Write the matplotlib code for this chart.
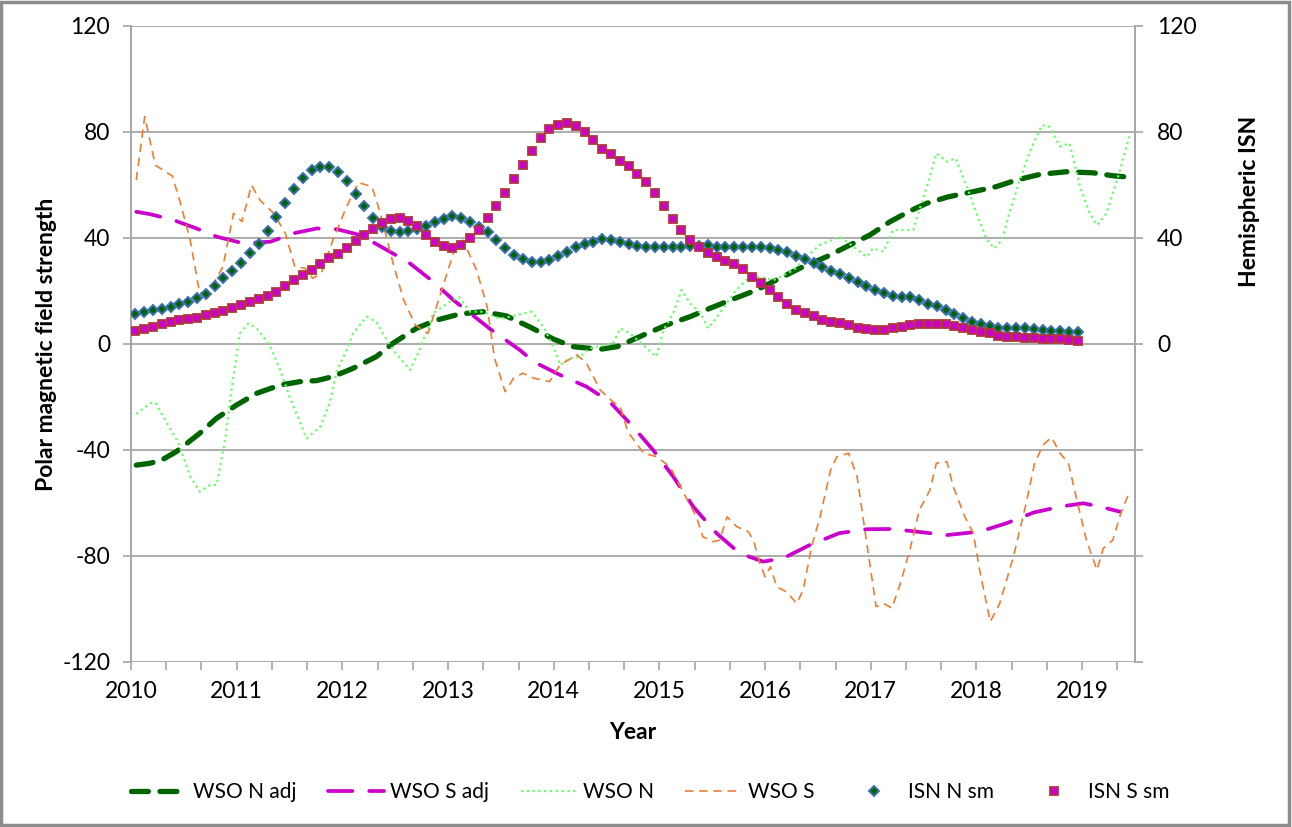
import numpy as np
import matplotlib
matplotlib.use('Agg')
import matplotlib.pyplot as plt
from matplotlib.patches import Rectangle
from matplotlib.ticker import FuncFormatter

plt.rcParams['font.family'] = ['Lato', 'DejaVu Sans']
plt.rcParams['axes.unicode_minus'] = False

# ---- WSO polar fields (decimal year, value) ----
wso_n_adj_year = [2010.05, 2010.18, 2010.29, 2010.43, 2010.65, 2010.81, 2011.00, 2011.19, 2011.41,
                  2011.60, 2011.76, 2011.91, 2012.10, 2012.32, 2012.48, 2012.70, 2012.89, 2013.11,
                  2013.33, 2013.55, 2013.77, 2014.00, 2014.18, 2014.44, 2014.60, 2014.85, 2015.07,
                  2015.29, 2015.48, 2015.70, 2015.92, 2016.14, 2016.36, 2016.58, 2016.77, 2016.99,
                  2017.18, 2017.37, 2017.53, 2017.73, 2017.97, 2018.19, 2018.38, 2018.60, 2018.85,
                  2019.10, 2019.29, 2019.46]
wso_n_adj = [-45.7, -45.0, -43.8, -40.6, -33.7, -28.0, -23.0, -18.6, -15.5,
             -14.2, -13.8, -12.3, -9.2, -4.8, 0.3, 5.9, 9.0, 11.3,
             12.2, 10.6, 6.5, 1.8, -1.0, -2.0, -1.0, 3.4, 7.2,
             10.3, 13.5, 17.0, 20.4, 24.8, 29.2, 32.9, 36.7, 41.1,
             46.1, 50.2, 53.1, 55.5, 57.5, 59.4, 61.9, 64.0, 65.0,
             64.6, 63.5, 62.9]

wso_s_adj_year = [2010.05, 2010.18, 2010.40, 2010.62, 2010.81, 2011.06, 2011.32, 2011.54, 2011.76,
                  2011.95, 2012.17, 2012.42, 2012.64, 2012.86, 2013.05, 2013.41, 2013.68, 2013.81,
                  2014.06, 2014.31, 2014.53, 2014.75, 2014.94, 2015.13, 2015.32, 2015.54, 2015.76,
                  2015.98, 2016.17, 2016.42, 2016.70, 2016.96, 2017.21, 2017.43, 2017.72, 2018.03,
                  2018.28, 2018.54, 2018.79, 2019.01, 2019.17, 2019.36]
wso_s_adj = [49.9, 49.0, 46.8, 43.6, 40.5, 38.0, 38.6, 41.8, 43.6,
             43.3, 41.1, 35.5, 30.4, 23.5, 16.6, 5.3, -2.3, -6.7,
             -11.7, -16.1, -21.8, -31.2, -40.0, -50.0, -61.4, -71.4, -79.0,
             -82.1, -80.9, -75.9, -71.4, -69.9, -69.8, -70.8, -72.1, -70.8,
             -67.7, -63.6, -61.4, -60.1, -61.4, -63.3]

wso_n_year = [2010.05, 2010.18, 2010.23, 2010.34, 2010.45, 2010.56, 2010.65, 2010.75, 2010.81, 2010.89,
              2010.95, 2011.03, 2011.11, 2011.19, 2011.32, 2011.41, 2011.50, 2011.66, 2011.79, 2011.88,
              2011.95, 2012.04, 2012.10, 2012.23, 2012.32, 2012.42, 2012.48, 2012.64, 2012.73, 2012.86,
              2012.99, 2013.10, 2013.21, 2013.33, 2013.49, 2013.62, 2013.79, 2013.91, 2014.01, 2014.06,
              2014.15, 2014.25, 2014.34, 2014.56, 2014.63, 2014.72, 2014.97, 2015.04, 2015.13, 2015.21,
              2015.29, 2015.39, 2015.46, 2015.57, 2015.70, 2015.82, 2015.95, 2016.08, 2016.27, 2016.39,
              2016.52, 2016.71, 2016.96, 2017.02, 2017.12, 2017.21, 2017.40, 2017.46, 2017.54, 2017.62,
              2017.72, 2017.80, 2017.91, 2018.00, 2018.10, 2018.17, 2018.24, 2018.32, 2018.41, 2018.51,
              2018.62, 2018.69, 2018.79, 2018.88, 2018.98, 2019.07, 2019.14, 2019.23, 2019.34, 2019.45]
wso_n = [-26.4, -22.4, -22.1, -29.9, -37.5, -50.0, -55.7, -53.2, -53.2, -36.2,
         -17.4, 4.0, 7.8, 5.9, -1.0, -9.8, -19.9, -35.6, -31.2, -22.4,
         -9.8, -2.3, 4.0, 10.3, 8.4, 1.5, -2.3, -9.8, -2.3, 11.6,
         15.3, 17.8, 12.2, 12.2, 9.5, 10.6, 12.2, 6.0, -2.3, -7.9,
         -5.4, -4.8, -1.6, 0.3, 5.9, 4.0, -4.8, 5.3, 11.6, 20.4,
         15.3, 11.6, 5.9, 11.6, 19.1, 24.1, 25.4, 24.1, 27.9, 32.9,
         37.4, 40.5, 32.9, 36.1, 34.8, 43.0, 43.0, 50.6, 60.6, 71.9,
         68.8, 70.1, 59.4, 49.3, 39.2, 36.1, 39.2, 50.6, 61.9, 73.2,
         82.6, 82.0, 74.5, 75.7, 59.4, 49.3, 44.9, 49.3, 63.1, 78.9]

wso_s_year = [2010.05, 2010.13, 2010.23, 2010.39, 2010.46, 2010.56, 2010.65, 2010.75, 2010.87, 2010.97,
              2011.05, 2011.14, 2011.22, 2011.35, 2011.46, 2011.55, 2011.65, 2011.72, 2011.80, 2011.91,
              2012.04, 2012.15, 2012.28, 2012.36, 2012.48, 2012.58, 2012.69, 2012.81, 2012.92, 2013.05,
              2013.14, 2013.27, 2013.37, 2013.44, 2013.54, 2013.62, 2013.71, 2013.81, 2013.96, 2014.06,
              2014.22, 2014.31, 2014.44, 2014.56, 2014.63, 2014.70, 2014.85, 2014.97, 2015.10, 2015.23,
              2015.35, 2015.41, 2015.51, 2015.57, 2015.64, 2015.73, 2015.84, 2015.89, 2015.95, 2016.00,
              2016.05, 2016.11, 2016.20, 2016.30, 2016.36, 2016.44, 2016.52, 2016.62, 2016.68, 2016.79,
              2016.87, 2016.93, 2016.99, 2017.05, 2017.12, 2017.20, 2017.28, 2017.37, 2017.46, 2017.56,
              2017.62, 2017.72, 2017.78, 2017.89, 2017.97, 2018.03, 2018.13, 2018.22, 2018.35, 2018.47,
              2018.55, 2018.63, 2018.71, 2018.79, 2018.87, 2018.95, 2019.04, 2019.14, 2019.20, 2019.29,
              2019.37, 2019.45]
wso_s = [61.9, 85.8, 67.5, 63.4, 54.3, 39.2, 19.1, 20.4, 29.2, 49.3,
         46.2, 60.0, 54.3, 49.3, 41.8, 29.2, 28.6, 24.8, 26.7, 39.2,
         51.8, 60.9, 59.4, 49.3, 30.4, 16.6, 7.2, 4.0, 17.8, 34.2,
         39.2, 27.9, 14.1, -5.4, -18.0, -12.9, -11.0, -12.9, -14.2, -7.9,
         -4.1, -7.3, -17.4, -21.8, -23.6, -33.1, -41.2, -42.5, -46.3, -56.3,
         -65.2, -72.7, -74.6, -74.0, -65.2, -68.9, -70.8, -74.0, -82.8, -87.8,
         -84.0, -91.6, -93.5, -97.9, -92.8, -76.5, -65.2, -47.5, -42.5, -41.2,
         -50.0, -66.4, -82.8, -99.1, -97.9, -99.7, -90.3, -77.7, -62.6, -55.1,
         -45.0, -44.4, -53.8, -65.2, -71.4, -85.3, -104.8, -97.9, -80.2, -60.1,
         -45.0, -38.1, -35.2, -41.2, -45.0, -58.9, -74.0, -85.3, -77.1, -74.0,
         -63.3, -55.7]

# ---- hemispheric sunspot numbers, monthly Jan 2010 .. Dec 2018 ----
isn_year = 2010 + (np.arange(108) + 0.5) / 12
isn_n_sm = [11.3, 12.0, 12.8, 13.1, 14.0, 15.0, 15.7, 17.5, 18.9, 21.9,
            24.9, 27.7, 30.7, 34.2, 37.8, 42.6, 47.8, 53.2, 58.4, 62.5,
            65.5, 66.8, 66.8, 64.8, 61.5, 56.6, 51.9, 47.4, 44.0, 42.6,
            42.1, 42.8, 43.5, 44.5, 46.2, 47.2, 48.3, 47.4, 46.2, 44.3,
            42.2, 39.2, 36.1, 33.5, 32.0, 30.8, 30.8, 31.7,
            33.2, 34.6, 36.6, 37.6, 38.6, 39.6, 39.2, 38.4, 37.6, 37.0,
            36.7, 36.7, 36.7, 36.7, 36.7, 37.0, 37.0, 37.4, 36.7, 36.7,
            36.7, 36.7, 36.7, 36.5, 36.1, 35.5, 34.6, 33.2, 32.2, 30.7,
            29.2, 27.5, 26.4, 25.0, 23.5, 22.0, 20.4, 19.1, 18.2, 17.9,
            17.6, 16.5, 15.2, 14.4, 13.0, 11.2, 9.7, 8.4, 7.5, 6.8,
            6.2, 5.9, 5.9, 5.9, 5.5, 5.3, 4.9, 4.9, 4.6, 4.5]
isn_s_sm = [4.9, 5.7, 6.5, 7.5, 8.4, 9.0, 9.5, 10.0, 11.0, 11.6,
            12.4, 13.5, 14.7, 15.9, 17.0, 18.3, 19.7, 21.8, 24.1, 26.0,
            28.0, 30.1, 32.3, 33.9, 36.1, 38.7, 41.2, 43.5, 45.6, 47.0,
            47.4, 46.6, 44.5, 41.0, 38.6, 36.9, 36.4, 37.5, 39.9, 43.2,
            47.4, 51.9, 56.8, 62.4, 67.7, 73.0, 77.6, 81.2,
            82.7, 83.3, 82.2, 80.0, 77.0, 73.7, 71.8, 69.0, 67.2, 64.1,
            61.0, 56.8, 51.9, 47.2, 43.0, 39.2, 36.5, 34.2, 32.8, 31.5,
            30.2, 28.3, 25.2, 22.9, 20.4, 17.6, 15.0, 12.8, 11.8, 10.6,
            9.2, 8.4, 7.8, 7.1, 6.2, 5.7, 5.4, 5.4, 6.0, 6.4,
            7.1, 7.4, 7.6, 7.7, 7.7, 6.8, 6.2, 5.3, 4.6, 4.0,
            3.1, 2.8, 2.5, 2.4, 2.3, 2.0, 2.0, 1.9, 1.5, 1.2]

year_labels = list(range(2010, 2020))
y_ticks = [-120, -80, -40, 0, 40, 80, 120]

GRID = '#A6A6A6'
FS = 16.5

W, H = 1292, 827
fig = plt.figure(figsize=(W / 100, H / 100), dpi=100)
ax = fig.add_axes([131 / W, 1 - 662 / H, 1004 / W, 636 / H])
ax2 = ax.twinx()

ax.plot(wso_n_adj_year, wso_n_adj, color='#006400', lw=3.8, dashes=(3.2, 2.2),
        dash_capstyle='round', label='WSO N adj', zorder=3)
ax.plot(wso_s_adj_year, wso_s_adj, color='#CC00CC', lw=2.7, dashes=(6.5, 4.5),
        dash_capstyle='round', label='WSO S adj', zorder=3)
ax.plot(wso_n_year, wso_n, color='#66FF66', lw=1.6, dashes=(1, 1.6), label='WSO N', zorder=4)
ax.plot(wso_s_year, wso_s, color='#ED7D31', lw=1.2, dashes=(5, 3.5), label='WSO S', zorder=4)

ax2.plot(isn_year, isn_n_sm, ls='none', marker='D', ms=4.6, mfc='#006400', mec='#3B6FB0',
         mew=1.4, label='ISN N sm', zorder=5)
ax2.plot(isn_year, isn_s_sm, ls='none', marker='s', ms=6.2, mfc='#CC00CC', mec='#B0383C',
         mew=1.3, label='ISN S sm', zorder=6)

for a in (ax, ax2):
    a.set_xlim(2010, 2019.5)
    a.set_ylim(-120, 120)
    a.set_yticks(y_ticks)
    for s in ('top', 'bottom'):
        a.spines[s].set_visible(False)
    a.spines['left'].set_color(GRID)
    a.spines['right'].set_color(GRID)
    a.spines['left'].set_linewidth(1.2)
    a.spines['right'].set_linewidth(1.2)

ax.grid(axis='y', color=GRID, lw=1.3)
ax.set_axisbelow(True)
ax.set_xticks(year_labels)
ax.set_xticklabels([str(y) for y in year_labels])
ax.set_xticks(np.arange(2010, 2019.4, 1 / 3), minor=True)
ax.tick_params(axis='x', which='both', length=6, width=1.2, color=GRID, pad=8, labelsize=FS)
ax.tick_params(axis='y', length=6, width=1.2, color=GRID, pad=9, labelsize=FS)
ax2.tick_params(axis='y', length=6, width=1.2, color=GRID, pad=10, labelsize=FS)
ax2.yaxis.set_major_formatter(FuncFormatter(lambda v, p: '' if v < 0 else f'{v:.0f}'))

ax.set_ylabel('Polar magnetic field strength', fontsize=FS, fontweight='bold')
ax.yaxis.set_label_coords(-0.074, 0.5)
ax2.set_ylabel('Hemispheric ISN', fontsize=FS, fontweight='bold')
ax2.yaxis.set_label_coords(1.104, 0.725)
ax.set_xlabel('Year', fontsize=FS, fontweight='bold')
ax.xaxis.set_label_coords(0.5, -0.094)

h1, l1 = ax.get_legend_handles_labels()
h2, l2 = ax2.get_legend_handles_labels()
fig.legend(h1 + h2, l1 + l2, loc='center', bbox_to_anchor=(650 / W, 1 - 792 / H), ncol=6,
           frameon=False, fontsize=15, handlelength=2.7, handletextpad=0.3,
           columnspacing=1.5)

fig.add_artist(Rectangle((0.001, 0.002), 0.997, 0.996, transform=fig.transFigure,
                         fill=False, edgecolor='#8C8C8C', lw=2.5))

fig.savefig('out.png', dpi=100)
